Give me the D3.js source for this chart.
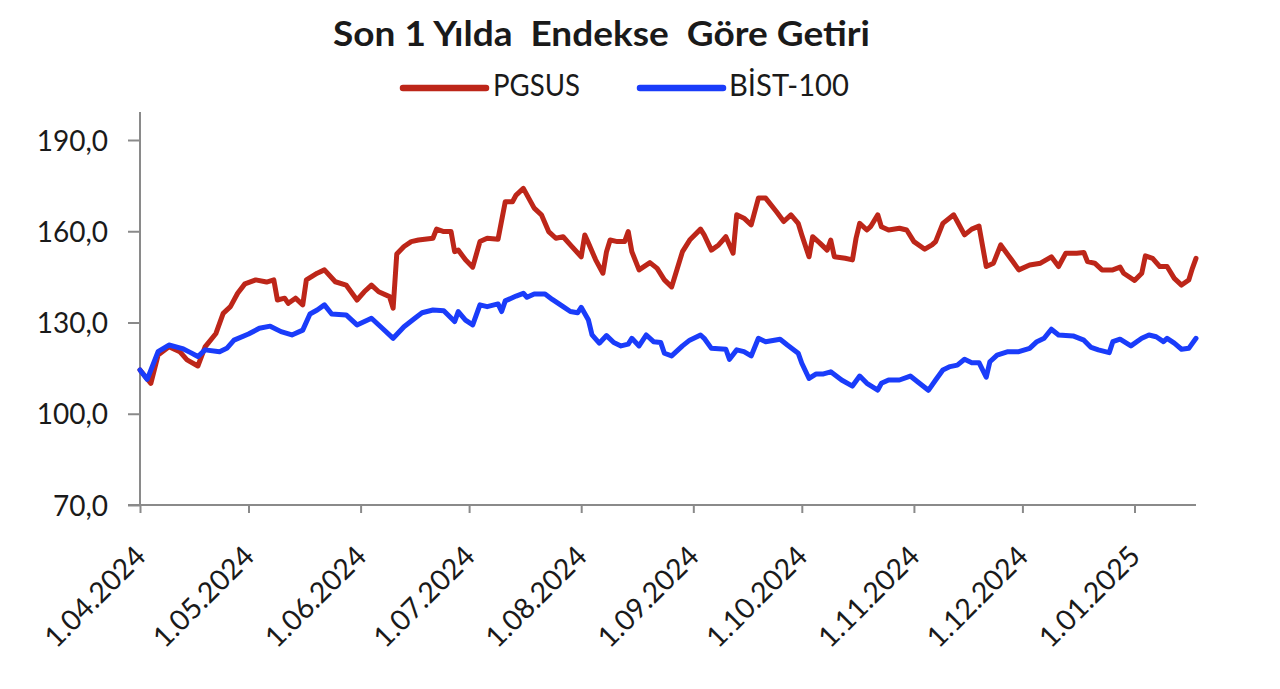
<!DOCTYPE html>
<html><head><meta charset="utf-8">
<script src="https://cdn.jsdelivr.net/npm/d3@7/dist/d3.min.js"></script>
<style>body{margin:0;background:#fff}svg{display:block}</style>
</head><body><svg id="c" width="1280" height="689"></svg>
<script>
const chartTitle = "Son 1 Yılda  Endekse  Göre Getiri";
const seriesNames = ["PGSUS", "BİST-100"];
const yTickValues = [70, 100, 130, 160, 190];
const xTickDates = ["2024-04-01","2024-05-01","2024-06-01","2024-07-01","2024-08-01","2024-09-01","2024-10-01","2024-11-01","2024-12-01","2025-01-01"];

const pgsusDates = ["2024-04-01","2024-04-04","2024-04-06","2024-04-09","2024-04-12","2024-04-14","2024-04-17","2024-04-19","2024-04-22","2024-04-24","2024-04-26","2024-04-28","2024-04-30","2024-05-03","2024-05-06","2024-05-08","2024-05-09","2024-05-11","2024-05-12","2024-05-14","2024-05-16","2024-05-17","2024-05-20","2024-05-22","2024-05-25","2024-05-28","2024-05-31","2024-06-02","2024-06-04","2024-06-06","2024-06-09","2024-06-10","2024-06-11","2024-06-13","2024-06-15","2024-06-17","2024-06-21","2024-06-22","2024-06-24","2024-06-26","2024-06-27","2024-06-28","2024-06-30","2024-07-02","2024-07-04","2024-07-06","2024-07-09","2024-07-11","2024-07-13","2024-07-14","2024-07-16","2024-07-19","2024-07-21","2024-07-23","2024-07-25","2024-07-27","2024-07-29","2024-08-01","2024-08-02","2024-08-03","2024-08-05","2024-08-07","2024-08-08","2024-08-09","2024-08-11","2024-08-13","2024-08-14","2024-08-15","2024-08-17","2024-08-20","2024-08-22","2024-08-24","2024-08-26","2024-08-29","2024-08-31","2024-09-03","2024-09-04","2024-09-06","2024-09-08","2024-09-10","2024-09-12","2024-09-13","2024-09-15","2024-09-17","2024-09-19","2024-09-21","2024-09-24","2024-09-26","2024-09-28","2024-09-30","2024-10-01","2024-10-03","2024-10-04","2024-10-06","2024-10-08","2024-10-09","2024-10-10","2024-10-13","2024-10-15","2024-10-16","2024-10-17","2024-10-19","2024-10-20","2024-10-22","2024-10-23","2024-10-25","2024-10-28","2024-10-30","2024-11-01","2024-11-04","2024-11-06","2024-11-07","2024-11-09","2024-11-12","2024-11-13","2024-11-15","2024-11-17","2024-11-19","2024-11-21","2024-11-23","2024-11-25","2024-11-28","2024-11-30","2024-12-03","2024-12-06","2024-12-09","2024-12-11","2024-12-13","2024-12-16","2024-12-18","2024-12-19","2024-12-21","2024-12-23","2024-12-26","2024-12-28","2024-12-29","2025-01-01","2025-01-03","2025-01-04","2025-01-06","2025-01-08","2025-01-10","2025-01-12","2025-01-14","2025-01-16","2025-01-17","2025-01-18"];
const pgsusValues = [114.4,110.0,119.3,122.0,120.4,117.7,115.7,122.0,126.4,133.0,135.2,139.6,142.7,144.0,143.3,144.0,137.4,138.0,136.3,138.0,135.8,144.0,146.2,147.3,143.4,142.3,137.4,140.1,142.3,140.1,138.5,134.7,152.5,155.0,156.6,157.1,157.7,160.7,159.9,159.9,153.3,153.8,150.6,148.2,156.6,157.7,157.4,169.7,169.7,171.9,174.1,167.6,165.4,159.9,157.7,158.2,155.5,151.6,158.8,156.1,150.6,146.2,153.3,157.1,156.6,156.6,159.9,153.3,147.3,149.7,147.8,144.0,141.7,153.3,157.1,160.7,158.8,153.8,155.5,158.2,152.8,165.4,164.3,162.1,170.9,170.9,166.4,163.2,165.4,162.6,158.8,151.6,158.2,156.1,153.8,157.1,151.6,151.1,150.6,157.7,162.6,160.4,161.5,165.4,161.5,160.4,161.0,160.4,156.6,154.1,155.5,156.6,162.6,165.4,163.2,158.8,160.7,161.7,148.4,149.5,155.5,150.6,147.3,148.9,149.5,151.6,148.4,152.8,152.8,153.0,150.0,149.5,147.3,147.3,148.2,146.2,143.8,146.2,151.9,151.1,148.4,148.4,144.5,142.3,144.0,147.8,151.1];

const bistDates = ["2024-04-01","2024-04-03","2024-04-06","2024-04-09","2024-04-13","2024-04-15","2024-04-17","2024-04-19","2024-04-23","2024-04-25","2024-04-27","2024-05-01","2024-05-04","2024-05-07","2024-05-10","2024-05-13","2024-05-16","2024-05-18","2024-05-20","2024-05-22","2024-05-24","2024-05-28","2024-05-31","2024-06-04","2024-06-07","2024-06-10","2024-06-13","2024-06-16","2024-06-18","2024-06-21","2024-06-24","2024-06-27","2024-06-28","2024-06-30","2024-07-02","2024-07-04","2024-07-06","2024-07-09","2024-07-10","2024-07-11","2024-07-14","2024-07-16","2024-07-17","2024-07-19","2024-07-22","2024-07-24","2024-07-27","2024-07-29","2024-07-31","2024-08-01","2024-08-03","2024-08-04","2024-08-06","2024-08-08","2024-08-10","2024-08-12","2024-08-14","2024-08-15","2024-08-17","2024-08-19","2024-08-21","2024-08-23","2024-08-24","2024-08-26","2024-08-29","2024-08-31","2024-09-03","2024-09-04","2024-09-06","2024-09-10","2024-09-11","2024-09-13","2024-09-15","2024-09-17","2024-09-19","2024-09-21","2024-09-25","2024-09-27","2024-09-30","2024-10-01","2024-10-03","2024-10-05","2024-10-07","2024-10-09","2024-10-12","2024-10-15","2024-10-17","2024-10-19","2024-10-22","2024-10-23","2024-10-25","2024-10-28","2024-10-31","2024-11-02","2024-11-05","2024-11-07","2024-11-09","2024-11-11","2024-11-13","2024-11-15","2024-11-17","2024-11-19","2024-11-21","2024-11-22","2024-11-24","2024-11-27","2024-11-30","2024-12-03","2024-12-05","2024-12-07","2024-12-09","2024-12-11","2024-12-15","2024-12-18","2024-12-20","2024-12-22","2024-12-25","2024-12-26","2024-12-28","2024-12-31","2025-01-03","2025-01-05","2025-01-07","2025-01-09","2025-01-10","2025-01-12","2025-01-14","2025-01-16","2025-01-18"];
const bistValues = [114.4,111.3,120.4,122.6,121.3,120.1,118.8,121.0,120.4,121.5,124.2,126.2,128.1,128.8,127.0,125.9,127.5,132.8,134.1,135.8,132.8,132.5,129.2,131.4,128.1,124.8,128.6,131.4,133.2,134.1,133.9,130.3,133.6,130.8,129.2,135.8,135.2,136.1,133.6,137.1,138.7,139.6,138.3,139.4,139.4,137.6,135.2,133.6,133.2,135.0,130.8,125.9,123.2,125.7,123.4,122.3,122.9,124.8,122.3,125.9,123.7,123.4,119.9,119.0,122.3,124.2,125.9,124.8,121.5,121.2,117.9,121.0,120.4,119.0,124.8,123.7,124.5,122.6,119.9,116.6,111.6,113.1,113.1,113.8,111.1,109.1,112.4,110.0,107.8,110.0,111.1,111.1,112.4,110.5,107.7,111.1,114.4,115.5,116.0,117.9,116.8,116.8,112.0,117.1,119.3,120.4,120.4,121.5,123.7,124.8,127.8,125.9,125.6,124.2,121.8,121.0,120.1,123.7,124.5,122.3,124.8,125.9,125.3,123.7,124.8,123.2,121.2,121.5,124.8];

const seriesColors = ["#BD2619", "#1A3CFA"];

const parse = d3.timeParse("%Y-%m-%d");
const svg = d3.select("#c");
const font = "Lato, 'Open Sans', sans-serif";

const x = d3.scaleTime().domain([parse("2024-04-01"), parse("2025-01-18")]).range([140, 1196]);
const y = d3.scaleLinear().domain([70, 190]).range([505, 140]);

function fit(sel, w) {
  sel.attr("textLength", w).attr("lengthAdjust", "spacingAndGlyphs");
}

// Title
svg.append("text").attr("x", 601.5).attr("y", 46).attr("text-anchor", "middle")
  .attr("font-family", font).attr("font-weight", 700).attr("font-size", 34)
  .attr("fill", "#1a1a1a").style("white-space", "pre").text(chartTitle)
  .call(fit, 537);

// Legend
const legendPos = [{lx: 403, tx: 493, tw: 87}, {lx: 640, tx: 729, tw: 120}];
seriesNames.forEach((n, i) => {
  const p = legendPos[i];
  svg.append("line").attr("x1", p.lx).attr("x2", p.lx + 83).attr("y1", 88).attr("y2", 88)
    .attr("stroke", seriesColors[i]).attr("stroke-width", 6.5).attr("stroke-linecap", "round");
  svg.append("text").attr("x", p.tx).attr("y", 96).attr("font-family", font)
    .attr("font-size", 31).attr("fill", "#1a1a1a").text(n).call(fit, p.tw);
});

// Y axis
const yAxis = d3.axisLeft(y).tickValues(yTickValues).tickSize(12).tickPadding(0)
  .tickFormat(d => d3.format(".1f")(d).replace(".", ","));
const gy = svg.append("g").attr("transform", "translate(140,0)").call(yAxis);
gy.select(".domain").remove();
gy.selectAll(".tick line").attr("stroke", "#8a8a8a").attr("stroke-width", 2);
gy.selectAll(".tick text").attr("x", -32).attr("dy", "0.36em")
  .attr("font-family", font).attr("font-size", 28).attr("fill", "#1a1a1a");
gy.append("line").attr("x1", 0).attr("x2", 0).attr("y1", 112).attr("y2", y(70))
  .attr("stroke", "#8a8a8a").attr("stroke-width", 2);

// X axis
const xAxis = d3.axisBottom(x).tickValues(xTickDates.map(parse)).tickSize(8)
  .tickFormat(d3.timeFormat("%-d.%m.%Y"));
const gx = svg.append("g").attr("transform", `translate(0,${y(70)})`).call(xAxis);
gx.select(".domain").remove();
gx.append("line").attr("x1", 128).attr("x2", 1196).attr("y1", 0).attr("y2", 0)
  .attr("stroke", "#8a8a8a").attr("stroke-width", 2);
gx.selectAll(".tick line").attr("stroke", "#8a8a8a").attr("stroke-width", 2);
gx.selectAll(".tick text").attr("y", 0).attr("dy", 0)
  .attr("transform", "translate(7,53) rotate(-45)").attr("text-anchor", "end")
  .attr("font-family", font).attr("font-size", 28.5).attr("fill", "#1a1a1a");

// Lines
const line = d3.line().x(d => x(d[0])).y(d => y(d[1]));
const series = [
  pgsusDates.map((d, i) => [parse(d), pgsusValues[i]]),
  bistDates.map((d, i) => [parse(d), bistValues[i]])
];
series.forEach((s, i) => {
  svg.append("path").datum(s).attr("d", line).attr("fill", "none")
    .attr("stroke", seriesColors[i]).attr("stroke-width", 5)
    .attr("stroke-linejoin", "round").attr("stroke-linecap", "round");
});
</script></body></html>
